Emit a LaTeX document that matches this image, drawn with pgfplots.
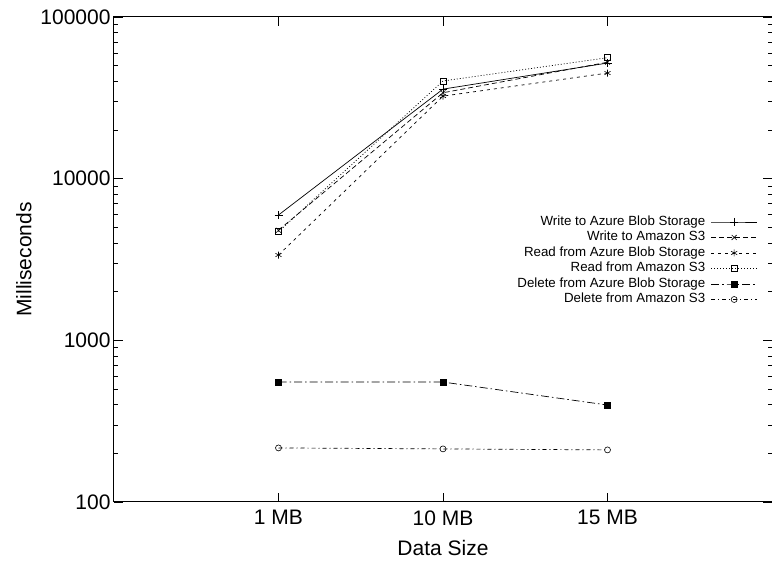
\documentclass[border=0pt]{standalone}
\usepackage{pgfplots}
\pgfplotsset{compat=1.18}
\usepackage{fontspec}
\setmainfont{Liberation Sans}
\begin{document}
\begin{tikzpicture}
\begin{axis}[
  at={(0,0)}, anchor=south west,
  scale only axis,
  width=658bp, height=485bp,
  ymode=log,
  xmin=0, xmax=4, ymin=100, ymax=100000,
  xtick={1,2,3}, xticklabels={1 MB,10 MB,15 MB},
  ytick={100,1000,10000,100000}, yticklabels={100,1000,10000,100000},
  minor ytick={200,300,400,500,600,700,800,900,2000,3000,4000,5000,6000,7000,8000,9000,20000,30000,40000,50000,60000,70000,80000,90000},
  tick align=inside,
  major tick length=9bp, minor tick length=4.5bp,
  tick style={line width=0.6bp, black},
  axis line style={line width=1bp},
  /pgf/number format/assume math mode=true,
  tick label style={font=\fontsize{21bp}{24bp}\selectfont},
  yticklabel style={xshift=0bp},
  xticklabel style={yshift=-5bp},
  label style={font=\fontsize{21bp}{24bp}\selectfont},
  xlabel={Data Size},
  ylabel={Milliseconds},
  xlabel style={at={(axis description cs:0.5,-0.0948)}, anchor=center},
  ylabel style={at={(axis description cs:-0.137,0.5)}, anchor=center},
  legend style={at={(rel axis cs:0.978,0.5933)}, anchor=north east, draw=none, fill=none,
    inner sep=0pt, outer sep=0pt, row sep=0pt, column sep=0pt,
    font=\fontsize{13.3bp}{15.5bp}\selectfont,
    nodes={text height=9.6bp, text depth=2.7bp, inner sep=1.6bp}},
  legend cell align=right,
  legend plot pos=right,
  legend image code/.code={\draw[mark repeat=2,mark phase=2] plot coordinates {(0bp,0bp) (23bp,0bp) (46bp,0bp)};},
  every axis plot/.append style={black, line width=0.7bp, mark options={solid, line width=0.6bp}},
]
\addplot[solid, mark=+, mark size=4bp] coordinates {(1,5960) (2,35800) (3,51900)};
\addlegendentry{Write to Azure Blob Storage\hspace*{4bp}}
\addplot[dash pattern=on 5bp off 3bp, mark=x, mark size=3.5bp] coordinates {(1,4800) (2,34000) (3,52500)};
\addlegendentry{Write to Amazon S3\hspace*{4bp}}
\addplot[dash pattern=on 3bp off 4bp, mark=asterisk, mark size=3.5bp] coordinates {(1,3370) (2,32400) (3,45000)};
\addlegendentry{Read from Azure Blob Storage\hspace*{4bp}}
\addplot[dash pattern=on 1bp off 2bp, mark=square, mark size=3bp] coordinates {(1,4700) (2,40200) (3,56000)};
\addlegendentry{Read from Amazon S3\hspace*{4bp}}
\addplot[dash pattern=on 8bp off 3bp on 1.5bp off 3bp, mark=square*, mark size=3bp] coordinates {(1,552) (2,552) (3,398)};
\addlegendentry{Delete from Azure Blob Storage\hspace*{4bp}}
\addplot[dash pattern=on 4bp off 3bp on 1bp off 3bp, mark=o, mark size=3bp] coordinates {(1,216) (2,213) (3,210)};
\addlegendentry{Delete from Amazon S3\hspace*{4bp}}
\end{axis}
\pgfresetboundingbox
\path (-114bp,-62bp) rectangle (658bp,502bp);
\end{tikzpicture}
\end{document}
